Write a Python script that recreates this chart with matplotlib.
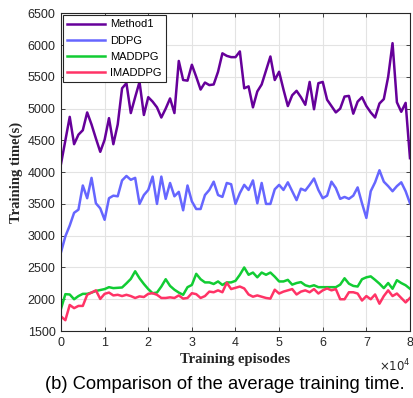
import numpy as np
import matplotlib
matplotlib.use("Agg")
from matplotlib import pyplot as plt
from matplotlib.ticker import FuncFormatter, MultipleLocator

# training episodes, one sample every 1000 episodes
episodes = np.arange(0, 81) * 1000

method1 = [4130, 4500, 4870, 4440, 4590, 4660, 4940, 4750, 4530, 4320,
           4510, 4850, 4440, 4750, 5320, 5400, 4930, 5180, 5420, 4900,
           5180, 5110, 5020, 4860, 5000, 5160, 4930, 5750, 5450, 5440,
           5690, 5500, 5300, 5410, 5370, 5380, 5580, 5870, 5830, 5810,
           5810, 5900, 5320, 5350, 5020, 5270, 5380, 5600, 5820, 5450,
           5580, 5300, 5040, 5210, 5280, 5180, 5060, 5420, 4990, 5400,
           5420, 5140, 5040, 4940, 5000, 5190, 5200, 4920, 5110, 5180,
           5040, 4940, 4860, 5080, 5150, 5500, 6030, 5100, 4950, 5090,
           4220]

ddpg = [2740, 2990, 3160, 3360, 3410, 3790, 3590, 3910, 3510, 3430,
        3250, 3590, 3630, 3620, 3870, 3940, 3880, 3910, 3500, 3640,
        3720, 3930, 3500, 3930, 3580, 3830, 3620, 3690, 3400, 3790,
        3540, 3420, 3420, 3640, 3720, 3850, 3640, 3610, 3830, 3810,
        3500, 3670, 3800, 3720, 3870, 3510, 3830, 3500, 3500, 3730,
        3800, 3720, 3840, 3700, 3560, 3740, 3710, 3800, 3900, 3720,
        3590, 3630, 3850, 3750, 3580, 3610, 3580, 3630, 3760, 3510,
        3280, 3700, 3840, 4030, 3850, 3780, 3700, 3780, 3840, 3700,
        3510]

maddpg = [1850, 2080, 2075, 2000, 2050, 2085, 2085, 2105, 2130, 2145,
          2160, 2190, 2175, 2180, 2185, 2250, 2320, 2440, 2330, 2240,
          2160, 2095, 2105, 2200, 2315, 2210, 2150, 2105, 2070, 2190,
          2225, 2400, 2315, 2265, 2265, 2240, 2280, 2225, 2265, 2265,
          2290, 2385, 2500, 2385, 2420, 2345, 2420, 2385, 2420, 2355,
          2280, 2280, 2305, 2230, 2255, 2270, 2220, 2200, 2220, 2190,
          2190, 2190, 2190, 2190, 2230, 2330, 2245, 2210, 2200, 2315,
          2345, 2360, 2305, 2245, 2175, 2255, 2165, 2300, 2255, 2220,
          2165]

imaddpg = [1730, 1670, 1910, 1860, 1895, 1895, 2070, 2105, 2140, 2005,
           2085, 2105, 2060, 2070, 2050, 2070, 2050, 2020, 2045, 2035,
           2085, 2095, 2070, 2020, 2020, 2030, 2020, 2060, 2010, 2020,
           2095, 2080, 2020, 2050, 2120, 2110, 2140, 2110, 2260, 2160,
           2180, 2200, 2170, 2075, 2040, 2060, 2040, 2020, 2010, 2150,
           2090, 2120, 2140, 2160, 2075, 2120, 2140, 2110, 2160, 2090,
           2140, 2170, 2140, 2160, 2000, 2000, 2110, 2110, 2090, 1980,
           2050, 2000, 2075, 1930, 2050, 2140, 2050, 2090, 2020, 1950,
           2020]

series = [
    ("Method1", method1, "#66009a"),
    ("DDPG", ddpg, "#6666ff"),
    ("MADDPG", maddpg, "#11cc33"),
    ("IMADDPG", imaddpg, "#ff3366"),
]

plt.rcParams['font.family'] = ['Liberation Sans', 'DejaVu Sans']
dark = "#262626"

fig = plt.figure(figsize=(4.13, 3.98), dpi=100)
ax = fig.add_axes([0.1477, 0.1683, 0.8450, 0.7983])

for name, vals, col in series:
    ax.plot(episodes, vals, color=col, lw=1.8, label=name)

ax.set_xlim(0, 80000)
ax.set_ylim(1500, 6500)
ax.xaxis.set_major_locator(MultipleLocator(10000))
ax.yaxis.set_major_locator(MultipleLocator(500))
ax.xaxis.set_major_formatter(FuncFormatter(lambda v, p: "%d" % round(v / 1e4)))

ax.grid(True, color="#e3e3e3", lw=0.8)
ax.set_axisbelow(True)
ax.tick_params(direction="in", top=True, right=True, length=3, width=0.6,
               labelsize=9, colors=dark, pad=4)
for sp in ax.spines.values():
    sp.set_color(dark)
    sp.set_linewidth(0.8)

ax.set_ylabel("Training time(s)", family=["Liberation Serif"], fontweight="bold",
              fontsize=10.5, color=dark, labelpad=3)
ax.set_xlabel("Training episodes", family=["Liberation Serif"], fontweight="bold",
              fontsize=10.5, color=dark, labelpad=3)

fig.text(0.955, 0.080, r"$\times10^{4}$", fontsize=8.5, color=dark, ha="center", va="center")

leg = ax.legend(loc="upper left", fontsize=8, handlelength=3.4, borderaxespad=0.15,
                fancybox=False, framealpha=1, edgecolor=dark, borderpad=0.4,
                labelspacing=0.55, handletextpad=0.5)
leg.get_frame().set_linewidth(0.8)

fig.text(0.545, 0.033, "(b) Comparison of the average training time.",
         fontsize=13.2, ha="center", va="center", color="black")

fig.savefig("out.png", dpi=100)
